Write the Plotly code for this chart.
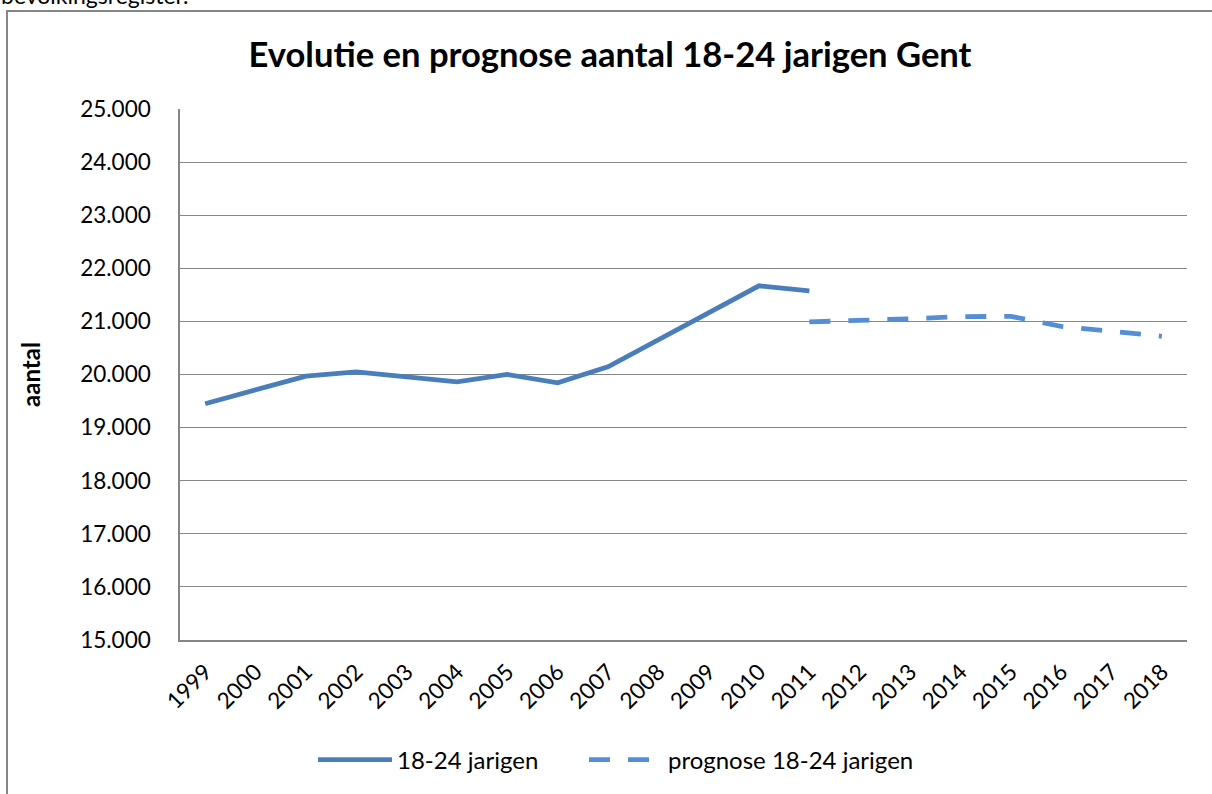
import plotly.graph_objects as go

years = [str(y) for y in range(1999, 2019)]
hist_years = [str(y) for y in range(1999, 2012)]
hist_values = [19450, 19717, 19970, 20050, 19957, 19862, 20000, 19843, 20145,
               20650, 21160, 21670, 21575]
prog_years = [str(y) for y in range(2011, 2019)]
prog_values = [20990, 21010, 21050, 21090, 21095, 20905, 20810, 20720]
y_ticks = list(range(15000, 25001, 1000))
y_tick_labels = [f"{v:,}".replace(",", ".") for v in y_ticks]

FONT = "Lato"
W, H = 1212, 794
L, R, T, B = 180, 1187, 109, 640

fig = go.Figure()
fig.add_trace(go.Scatter(x=hist_years, y=hist_values, mode="lines",
                         name="18-24 jarigen", legend="legend",
                         line=dict(color="#4a7ebb", width=4.8)))
fig.add_trace(go.Scatter(x=prog_years, y=prog_values, mode="lines",
                         name="prognose 18-24 jarigen", legend="legend2",
                         line=dict(color="#558ed5", width=4.8, dash="21px,18px")))

def px_x(p):
    return (p - L) / (R - L)

def px_y(p):
    return (B - p) / (B - T)

legend_common = dict(orientation="h", yanchor="middle", y=px_y(760),
                     xanchor="left", itemwidth=74, bgcolor="rgba(0,0,0,0)",
                     font=dict(family=FONT, size=24, color="black"))

fig.update_layout(
    width=W, height=H,
    margin=dict(l=L, r=W - R, t=T, b=H - B),
    paper_bgcolor="white", plot_bgcolor="white",
    font=dict(family=FONT, size=22.5, color="black"),
    title=dict(text="<b>Evolutie en prognose aantal 18-24 jarigen Gent</b>",
               x=610 / W, xanchor="center", xref="container",
               y=1 - 55 / H, yanchor="middle", yref="container",
               font=dict(family=FONT, size=34.6, color="black")),
    showlegend=True,
    legend=dict(x=px_x(313), **legend_common),
    legend2=dict(x=px_x(584), **legend_common),
    xaxis=dict(type="category", categoryorder="array", categoryarray=years,
               range=[-0.5, 19.5], showgrid=False, showline=True,
               linecolor="#868686", linewidth=1.5, ticks="", tickangle=-45,
               ticklabelstandoff=8, fixedrange=True, mirror=False,
               tickfont=dict(family=FONT, size=22.5, color="black")),
    yaxis=dict(range=[15000, 25000], tickvals=y_ticks, ticktext=y_tick_labels,
               showgrid=True, gridcolor="#868686", gridwidth=1.3,
               showline=True, linecolor="#868686", linewidth=1.5,
               ticks="", ticklabelstandoff=23, zeroline=False, fixedrange=True,
               tickfont=dict(family=FONT, size=22.5, color="black"),
               title=dict(text="<b>aantal</b>", standoff=33,
                          font=dict(family=FONT, size=24, color="black"))),
    shapes=[dict(type="rect", xref="paper", yref="paper",
                 x0=px_x(7), x1=px_x(1230), y0=px_y(11), y1=px_y(830),
                 line=dict(color="#868686", width=2), fillcolor="rgba(0,0,0,0)",
                 layer="below")],
    annotations=[dict(text="bevolkingsregister.", xref="paper", yref="paper",
                      x=px_x(-1), xanchor="left", y=px_y(-5), yanchor="middle",
                      showarrow=False, font=dict(family=FONT, size=23, color="black"))],
)

fig.write_html("out.html", config={"displayModeBar": False},
               post_script="document.body.style.margin='0';")
